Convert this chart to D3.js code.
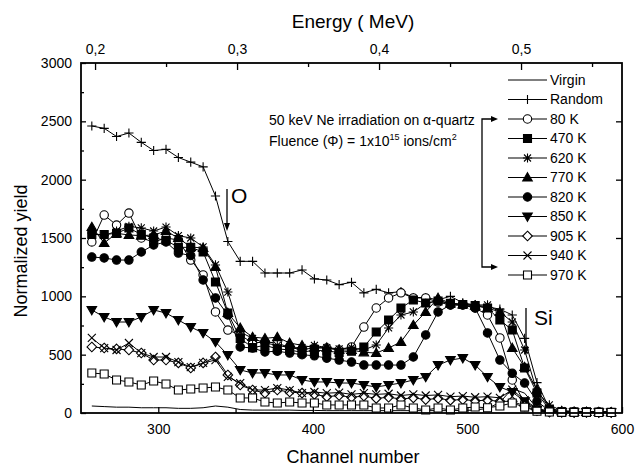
<!DOCTYPE html>
<html>
<head>
<meta charset="utf-8">
<script src="https://cdn.jsdelivr.net/npm/d3@7"></script>
<style>
body { margin: 0; background: #fff; }
svg { font-family: "Liberation Sans", Arial, sans-serif; }
</style>
</head>
<body>
<svg width="636" height="466"></svg>
<script>
// channel numbers of the plotted points
var channels = [257, 265, 273, 281, 289, 297, 305, 313, 321, 329, 337, 345, 353, 361, 369, 377, 385, 393, 401, 409, 417, 425,
  433, 441, 449, 457, 465, 473, 481, 489, 497, 505, 513, 521, 529, 537, 545, 553, 561, 569, 577, 585, 593];

var virgin = [60, 55, 50, 50, 45, 45, 45, 40, 40, 45, 60, 50, 30, 25, 25, 25, 25, 22, 22, 20, 20, 20,
  20, 20, 20, 20, 20, 20, 20, 20, 22, 25, 40, 90, 210, 170, 40, 10, 5, 5, 5, 4, 4];
var random = [2460, 2440, 2370, 2400, 2320, 2250, 2260, 2190, 2150, 2110, 1860, 1470, 1300, 1300, 1200, 1200, 1200, 1226, 1150, 1140, 1100, 1120,
  1030, 1060, 1030, 1040, 990, 990, 970, 1000, 945, 925, 910, 890, 840, 640, 260, 40, 15, 10, 12, 8, 10];
var k80 = [1466, 1697, 1611, 1714, 1500, 1466, 1500, 1483, 1311, 1183, 866, 711, 669, 600, 609, 600, 560, 545, 557, 557, 540, 566,
  737, 900, 986, 1030, 986, 986, 951, 926, 926, 900, 840, 643, 283, 86, 20, 10, 8, 10, 6, 8, 5];
var k470 = [1530, 1530, 1540, 1586, 1530, 1500, 1480, 1420, 1420, 1380, 1123, 857, 640, 560, 580, 550, 540, 520, 540, 530, 520, 530,
  566, 694, 797, 900, 969, 943, 960, 940, 930, 920, 900, 797, 711, 386, 171, 30, 10, 8, 10, 8, 6];
var k620 = [1543, 1520, 1560, 1600, 1586, 1560, 1594, 1520, 1500, 1423, 1269, 1037, 694, 640, 600, 580, 560, 560, 580, 560, 550, 560,
  540, 583, 729, 840, 866, 940, 960, 940, 930, 926, 926, 866, 780, 540, 180, 69, 20, 15, 12, 10, 8];
var k770 = [1594, 1457, 1540, 1526, 1520, 1526, 1560, 1500, 1423, 1414, 1251, 857, 729, 651, 640, 650, 600, 580, 560, 560, 540, 540,
  520, 514, 557, 609, 754, 866, 986, 940, 930, 920, 900, 866, 557, 394, 200, 40, 15, 10, 10, 8, 6];
var k820 = [1337, 1329, 1311, 1311, 1380, 1440, 1466, 1371, 1350, 1140, 986, 840, 566, 557, 523, 530, 514, 500, 490, 470, 454, 437,
  411, 411, 411, 411, 480, 669, 866, 926, 926, 900, 686, 454, 340, 257, 100, 20, 10, 8, 8, 6, 5];
var k850 = [883, 823, 780, 780, 823, 883, 857, 797, 737, 686, 609, 497, 369, 343, 343, 326, 326, 283, 266, 266, 257, 257,
  240, 223, 240, 257, 283, 309, 411, 454, 471, 411, 309, 223, 180, 100, 30, 10, 8, 6, 8, 5, 5];
var k905 = [566, 557, 549, 540, 514, 454, 454, 429, 386, 429, 480, 326, 240, 197, 171, 197, 180, 171, 160, 140, 150, 135,
  145, 125, 135, 120, 130, 115, 125, 110, 115, 105, 110, 100, 100, 60, 20, 10, 8, 6, 6, 5, 5];
var k940 = [643, 557, 540, 600, 514, 480, 480, 437, 394, 429, 454, 309, 257, 197, 197, 214, 197, 171, 180, 170, 175, 160,
  170, 160, 165, 150, 160, 150, 155, 140, 145, 135, 140, 130, 200, 110, 40, 12, 10, 8, 8, 6, 6];
var k970 = [343, 334, 283, 266, 240, 274, 249, 197, 206, 214, 223, 197, 129, 129, 94, 86, 94, 86, 86, 69, 69, 69,
  69, 43, 43, 69, 43, 26, 43, 26, 43, 51, 45, 60, 86, 50, 15, 8, 5, 5, 5, 4, 4];

var seriesNames = ["Virgin", "Random", "80 K", "470 K", "620 K", "770 K", "820 K", "850 K", "905 K", "940 K", "970 K"];
var seriesValues = [virgin, random, k80, k470, k620, k770, k820, k850, k905, k940, k970];

var yTicks = [0, 500, 1000, 1500, 2000, 2500, 3000];
var yMinorTicks = [250, 750, 1250, 1750, 2250, 2750];
var channelTicks = [300, 400, 500, 600];
var channelMinorTicks = [350, 450, 550];
var energyTicks = [0.2, 0.3, 0.4, 0.5];
var energyMinorTicks = [0.25, 0.35, 0.45, 0.55];

var svg = d3.select("svg");

var x = d3.scaleLinear().domain([250, 600]).range([81, 622]);
var y = d3.scaleLinear().domain([0, 3000]).range([413, 63]);
// energy calibration of the top axis (same pixel range as channels 250..600)
var energy = d3.scaleLinear().domain([0.1901, 0.5711]).range([81, 622]);

// marker shapes
function markerPath(type) {
  var r = 4.2;
  switch (type) {
    case "circle": return "M" + r + ",0A" + r + "," + r + " 0 1,1 " + (-r) + ",0A" + r + "," + r + " 0 1,1 " + r + ",0Z";
    case "square": return "M-4,-4h8v8h-8Z";
    case "triUp": return "M0,-4.8L4.8,3.5L-4.8,3.5Z";
    case "triDown": return "M0,4.8L4.8,-3.5L-4.8,-3.5Z";
    case "diamond": return "M0,-4.8L4.8,0L0,4.8L-4.8,0Z";
    case "plus": return "M-4.6,0H4.6M0,-4.6V4.6";
    case "x": return "M-4,-4L4,4M-4,4L4,-4";
    case "asterisk": return "M-4.6,0H4.6M0,-4.6V4.6M-3.5,-3.5L3.5,3.5M-3.5,3.5L3.5,-3.5";
  }
  return "";
}

var styles = [
  { marker: null },
  { marker: "plus", fill: "none" },
  { marker: "circle", fill: "#fff" },
  { marker: "square", fill: "#000" },
  { marker: "asterisk", fill: "none" },
  { marker: "triUp", fill: "#000" },
  { marker: "circle", fill: "#000" },
  { marker: "triDown", fill: "#000" },
  { marker: "diamond", fill: "#fff" },
  { marker: "x", fill: "none" },
  { marker: "square", fill: "#fff" }
];

var series = seriesNames.map(function(name, i) {
  return {
    name: name,
    style: styles[i],
    points: channels.map(function(c, j) { return { ch: c, v: seriesValues[i][j] }; })
  };
});

var line = d3.line()
  .x(function(d) { return x(d.ch); })
  .y(function(d) { return y(d.v); });

var plot = svg.append("g");

series.forEach(function(s) {
  var g = plot.append("g");
  g.append("path")
    .attr("d", line(s.points))
    .attr("fill", "none")
    .attr("stroke", "#000")
    .attr("stroke-width", 1);
  if (s.style.marker) {
    g.selectAll("path.m")
      .data(s.points)
      .enter().append("path")
        .attr("class", "m")
        .attr("transform", function(d) { return "translate(" + x(d.ch) + "," + y(d.v) + ")"; })
        .attr("d", markerPath(s.style.marker))
        .attr("fill", s.style.fill)
        .attr("stroke", "#000")
        .attr("stroke-width", 1.1);
  }
});

// axes
function styleAxis(g) {
  g.select(".domain").remove();
  g.selectAll("line").attr("stroke", "#000").attr("stroke-width", 1.3);
  g.selectAll("text").attr("fill", "#000").attr("font-size", "14px")
    .attr("font-family", "'Liberation Sans', Arial, sans-serif");
}

svg.append("g").attr("transform", "translate(81,0)")
  .call(d3.axisLeft(y).tickValues(yTicks).tickSize(-5).tickPadding(9).tickFormat(d3.format("d")))
  .call(styleAxis);
svg.append("g").attr("transform", "translate(81,0)")
  .call(d3.axisLeft(y).tickValues(yMinorTicks).tickSize(-3).tickFormat(""))
  .call(styleAxis);
svg.append("g").attr("transform", "translate(622,0)")
  .call(d3.axisRight(y).tickValues(yTicks.slice(1, -1)).tickSize(-6).tickFormat(""))
  .call(styleAxis);

svg.append("g").attr("transform", "translate(0,413)")
  .call(d3.axisBottom(x).tickValues(channelTicks).tickSize(-6).tickPadding(11).tickFormat(d3.format("d")))
  .call(styleAxis);
svg.append("g").attr("transform", "translate(0,413)")
  .call(d3.axisBottom(x).tickValues(channelMinorTicks).tickSize(-4).tickFormat(""))
  .call(styleAxis);

svg.append("g").attr("transform", "translate(0,63)")
  .call(d3.axisTop(energy).tickValues(energyTicks).tickSize(-7).tickPadding(9)
    .tickFormat(function(d) { return d3.format(".1f")(d).replace(".", ","); }))
  .call(styleAxis);
svg.append("g").attr("transform", "translate(0,63)")
  .call(d3.axisTop(energy).tickValues(energyMinorTicks).tickSize(-4).tickFormat(""))
  .call(styleAxis);

// frame
svg.append("rect")
  .attr("x", 81).attr("y", 63).attr("width", 541).attr("height", 350)
  .attr("fill", "none").attr("stroke", "#000").attr("stroke-width", 1.8);

// titles
svg.append("text").attr("x", 353).attr("y", 28).attr("text-anchor", "middle")
  .attr("font-size", "19px").text("Energy ( MeV)");
svg.append("text").attr("x", 353).attr("y", 463).attr("text-anchor", "middle")
  .attr("font-size", "18px").text("Channel number");
svg.append("text").attr("transform", "translate(27,251) rotate(-90)").attr("text-anchor", "middle")
  .attr("font-size", "18px").text("Normalized yield");

// legend
var legend = svg.append("g").attr("transform", "translate(508,80)");
series.forEach(function(s, i) {
  var row = legend.append("g").attr("transform", "translate(0," + (i * 19.5) + ")");
  row.append("line").attr("x1", 0).attr("x2", 39).attr("y1", 0).attr("y2", 0)
    .attr("stroke", "#000").attr("stroke-width", 1.1);
  if (s.style.marker) {
    row.append("path").attr("transform", "translate(19.5,0)")
      .attr("d", markerPath(s.style.marker))
      .attr("fill", s.style.fill).attr("stroke", "#000").attr("stroke-width", 1.1);
  }
  row.append("text").attr("x", 42).attr("dy", "0.35em").attr("font-size", "14px").text(s.name);
});

// annotations
var note = svg.append("g").attr("font-size", "14px");
note.append("text").attr("x", 269).attr("y", 125).text("50 keV Ne irradiation on α-quartz");
var fl = note.append("text").attr("x", 269).attr("y", 146);
fl.append("tspan").text("Fluence (Φ) = 1x10");
fl.append("tspan").attr("dy", -6).attr("font-size", "9px").text("15");
fl.append("tspan").attr("dy", 6).text(" ions/cm");
fl.append("tspan").attr("dy", -6).attr("font-size", "9px").text("2");

function arrowHead(g, tipX, tipY, dir) {
  var p;
  if (dir === "right") p = [[tipX, tipY], [tipX - 7, tipY - 3], [tipX - 7, tipY + 3]];
  else p = [[tipX, tipY], [tipX - 3, tipY - 8], [tipX + 3, tipY - 8]];
  g.append("path").attr("d", "M" + p.join("L") + "Z").attr("fill", "#000");
}

var ann = svg.append("g");
ann.append("path").attr("d", "M491,119H482V267H491")
  .attr("fill", "none").attr("stroke", "#000").attr("stroke-width", 1.3);
arrowHead(ann, 498, 119, "right");
arrowHead(ann, 498, 267, "right");

ann.append("line").attr("x1", 227).attr("x2", 227).attr("y1", 189).attr("y2", 224)
  .attr("stroke", "#000").attr("stroke-width", 1.3);
arrowHead(ann, 227, 231, "down");
ann.append("text").attr("x", 231).attr("y", 203).attr("font-size", "21px").text("O");

ann.append("line").attr("x1", 526).attr("x2", 526).attr("y1", 308).attr("y2", 348)
  .attr("stroke", "#000").attr("stroke-width", 1.3);
arrowHead(ann, 526, 355, "down");
ann.append("text").attr("x", 534).attr("y", 325).attr("font-size", "21px").text("Si");
</script>
</body>
</html>
